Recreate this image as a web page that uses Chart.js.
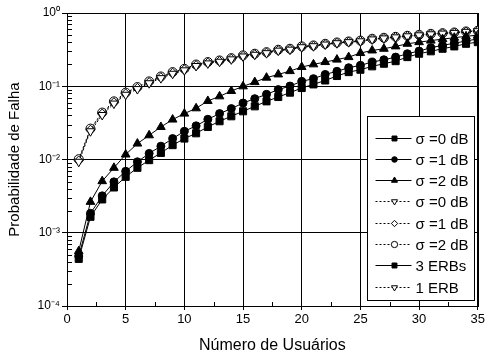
<!DOCTYPE html>
<html>
<head>
<meta charset="utf-8">
<script src="https://cdn.jsdelivr.net/npm/chart.js@4/dist/chart.umd.min.js"></script>
<style>
  body { margin: 0; background: #fff; }
  canvas { display: block; }
</style>
</head>
<body>
<canvas id="chart" width="487" height="358"></canvas>
<script>
// numero de usuarios
const users = [1, 2, 3, 4, 5, 6, 7, 8, 9, 10, 11, 12, 13, 14, 15, 16, 17, 18, 19, 20,
               21, 22, 23, 24, 25, 26, 27, 28, 29, 30, 31, 32, 33, 34, 35]

// 3 ERBs (linhas cheias)
const erb3Sigma0 = [4.4e-4, 1.65e-3, 2.85e-3, 4.15e-3, 5.8e-3, 7.7e-3, 9.8e-3, 0.0123, 0.0157, 0.0193,
                    0.0228, 0.0278, 0.0333, 0.0389, 0.0455, 0.0532, 0.0622, 0.0713, 0.0818, 0.0946,
                    0.106, 0.12, 0.138, 0.156, 0.168, 0.187, 0.203, 0.22, 0.25, 0.278,
                    0.3, 0.325, 0.35, 0.38, 0.4]
const erb3Sigma1 = [4.8e-4, 1.84e-3, 3.19e-3, 4.95e-3, 6.9e-3, 9.3e-3, 0.0121, 0.0152, 0.0193, 0.0243,
                    0.0288, 0.0354, 0.0423, 0.0495, 0.059, 0.0677, 0.0776, 0.09, 0.1007, 0.1166,
                    0.127, 0.145, 0.16, 0.179, 0.193, 0.214, 0.23, 0.25, 0.278, 0.302,
                    0.336, 0.361, 0.388, 0.413, 0.445]
const erb3Sigma2 = [5.6e-4, 2.64e-3, 5.06e-3, 7.7e-3, 0.0117, 0.0165, 0.0214, 0.0278, 0.0351, 0.0423,
                    0.05, 0.063, 0.0728, 0.0861, 0.0997, 0.114, 0.131, 0.145, 0.161, 0.183,
                    0.199, 0.214, 0.231, 0.25, 0.284, 0.308, 0.325, 0.35, 0.38, 0.4,
                    0.42, 0.44, 0.46, 0.48, 0.5]

// 1 ERB (linhas pontilhadas)
const erb1Sigma0 = [0.0093, 0.0243, 0.0405, 0.058, 0.0765, 0.0915, 0.11, 0.129, 0.148, 0.165,
                    0.189, 0.205, 0.216, 0.233, 0.255, 0.269, 0.283, 0.306, 0.316, 0.341,
                    0.352, 0.371, 0.387, 0.4, 0.411, 0.436, 0.45, 0.465, 0.481, 0.496,
                    0.512, 0.523, 0.535, 0.553, 0.565]
const erb1Sigma1 = [0.0097, 0.0255, 0.0424, 0.0605, 0.0797, 0.095, 0.1138, 0.133, 0.153, 0.17,
                    0.194, 0.21, 0.221, 0.238, 0.26, 0.274, 0.288, 0.311, 0.321, 0.346,
                    0.357, 0.376, 0.392, 0.405, 0.416, 0.441, 0.455, 0.47, 0.486, 0.5,
                    0.517, 0.527, 0.539, 0.557, 0.569]
const erb1Sigma2 = [0.0101, 0.0264, 0.0437, 0.0622, 0.0818, 0.0975, 0.1166, 0.136, 0.156, 0.173,
                    0.198, 0.214, 0.225, 0.242, 0.264, 0.278, 0.292, 0.315, 0.325, 0.35,
                    0.361, 0.38, 0.396, 0.409, 0.42, 0.445, 0.459, 0.473, 0.489, 0.504,
                    0.52, 0.53, 0.542, 0.56, 0.572]

const xTicks = [0, 5, 10, 15, 20, 25, 30, 35]
const yDecades = [-4, -3, -2, -1, 0]

const sup = { '0': '⁰', '1': '¹', '2': '²', '3': '³', '4': '⁴', '-': '⁻' }
const FONT = "'Liberation Sans', Arial, sans-serif"

function isDecade(v) {
    const l = Math.log10(v)
    return Math.abs(l - Math.round(l)) < 1e-6
}

function serie(label, data, style, radius, filled, dotted, rotation) {
    return {
        label: label,
        data: data,
        borderColor: '#000',
        borderWidth: 1,
        borderDash: dotted ? [2, 2] : [],
        pointStyle: style,
        pointRadius: radius,
        pointRotation: rotation || 0,
        pointBackgroundColor: filled ? '#000' : '#fff',
        pointBorderColor: '#000',
        pointBorderWidth: 1,
        tension: 0,
        fill: false
    }
}

// desenha moldura, ticks menores e a legenda dentro do grafico
const extras = {
    id: 'extras',
    afterDraw(chart) {
        const ctx = chart.ctx
        const a = chart.chartArea
        const xs = chart.scales.x
        const ys = chart.scales.y
        ctx.save()
        ctx.strokeStyle = '#000'
        ctx.lineWidth = 1

        // ticks menores para dentro
        ctx.beginPath()
        yDecades.forEach(e => {
            for (let m = 2; m <= 9; m++) {
                const v = m * Math.pow(10, e)
                if (v > 1) continue
                const py = Math.round(ys.getPixelForValue(v)) + 0.5
                ctx.moveTo(a.left, py)
                ctx.lineTo(a.left + 5, py)
            }
        })
        for (let t = 2.5; t < 35; t += 5) {
            const px = Math.round(xs.getPixelForValue(t)) + 0.5
            ctx.moveTo(px, a.bottom)
            ctx.lineTo(px, a.bottom - 4)
        }
        ctx.stroke()

        // moldura
        ctx.strokeRect(Math.round(a.left) + 0.5, Math.round(a.top) + 0.5,
            Math.round(a.right - a.left), Math.round(a.bottom - a.top))

        // legenda
        const bx = Math.round(a.right) - 111 + 0.5
        const by = Math.round(a.top) + 103 + 0.5
        const bw = 107, bh = 184
        ctx.fillStyle = '#fff'
        ctx.fillRect(bx, by, bw, bh)
        ctx.strokeRect(bx, by, bw, bh)

        ctx.font = '15px ' + FONT
        ctx.textBaseline = 'middle'
        ctx.textAlign = 'left'
        chart.data.datasets.forEach((ds, i) => {
            const cy = Math.round(by + 21 + i * 21.3) + 0.5
            ctx.strokeStyle = '#000'
            ctx.lineWidth = 1
            ctx.setLineDash(ds.borderDash)
            ctx.beginPath()
            ctx.moveTo(bx + 8, cy)
            ctx.lineTo(bx + 44, cy)
            ctx.stroke()
            ctx.setLineDash([])
            ctx.fillStyle = ds.pointBackgroundColor
            Chart.helpers.drawPoint(ctx, {
                pointStyle: ds.pointStyle,
                radius: ds.pointRadius * 0.7,
                rotation: ds.pointRotation,
                borderWidth: 1
            }, bx + 27, cy)
            ctx.fillStyle = '#000'
            ctx.fillText(ds.label, bx + 48, cy + 1)
        })
        ctx.restore()
    }
}

document.addEventListener('DOMContentLoaded', function() {
    const datasets = [
        serie('σ =0 dB', erb3Sigma0, 'rect', 5, true, false),
        serie('σ =1 dB', erb3Sigma1, 'circle', 4, true, false),
        serie('σ =2 dB', erb3Sigma2, 'triangle', 5, true, false),
        serie('σ =0 dB', erb1Sigma0, 'triangle', 5, false, true, 180),
        serie('σ =1 dB', erb1Sigma1, 'rectRot', 4.5, false, true),
        serie('σ =2 dB', erb1Sigma2, 'circle', 4.5, false, true),
        serie('3 ERBs', [], 'rect', 5, true, false),
        serie('1 ERB', [], 'triangle', 5, false, true, 180)
    ]

    const config = {
        type: 'line',
        data: { labels: users, datasets: datasets },
        options: {
            responsive: false,
            animation: false,
            devicePixelRatio: 1,
            layout: { padding: { left: 0, right: 7, top: 13, bottom: 0 } },
            plugins: { legend: { display: false }, tooltip: { enabled: false } },
            scales: {
                x: {
                    type: 'linear',
                    min: 0,
                    max: 35,
                    afterFit: s => { s.height = 52 },
                    afterBuildTicks: s => { s.ticks = xTicks.map(v => ({ value: v })) },
                    grid: { color: '#000', lineWidth: 1, tickLength: 4, tickColor: '#000' },
                    border: { display: false },
                    ticks: { color: '#000', font: { family: FONT, size: 13 }, padding: 2, maxRotation: 0 },
                    title: { display: true, text: 'Número de Usuários', color: '#000',
                             font: { family: FONT, size: 16 }, padding: { top: 4, bottom: 3 } }
                },
                y: {
                    type: 'logarithmic',
                    min: 1e-4,
                    max: 1,
                    afterFit: s => { s.width = 67 },
                    afterBuildTicks: s => {
                        const t = []
                        yDecades.forEach(e => {
                            for (let m = 1; m <= 9; m++) {
                                const v = m * Math.pow(10, e)
                                if (v <= 1) t.push({ value: v, major: m === 1 })
                            }
                        })
                        s.ticks = t
                    },
                    grid: {
                        lineWidth: 1,
                        tickLength: 5,
                        color: c => isDecade(c.tick.value) ? '#000' : 'rgba(0,0,0,0)',
                        tickColor: c => isDecade(c.tick.value) ? '#000' : 'rgba(0,0,0,0)'
                    },
                    border: { display: false },
                    ticks: {
                        autoSkip: false,
                        color: '#000',
                        padding: 2,
                        font: { family: FONT, size: 12 },
                        callback: v => {
                            if (!isDecade(v)) return ''
                            const e = String(Math.round(Math.log10(v)))
                            return '10' + e.split('').map(ch => sup[ch]).join('')
                        }
                    },
                    title: { display: true, text: 'Probabilidade de Falha', color: '#000',
                             font: { family: FONT, size: 15 }, padding: { top: 6, bottom: 4 } }
                }
            }
        },
        plugins: [extras]
    }

    const ctx = document.getElementById('chart').getContext('2d')
    const myChart = new Chart(ctx, config)
})
</script>
</body>
</html>
